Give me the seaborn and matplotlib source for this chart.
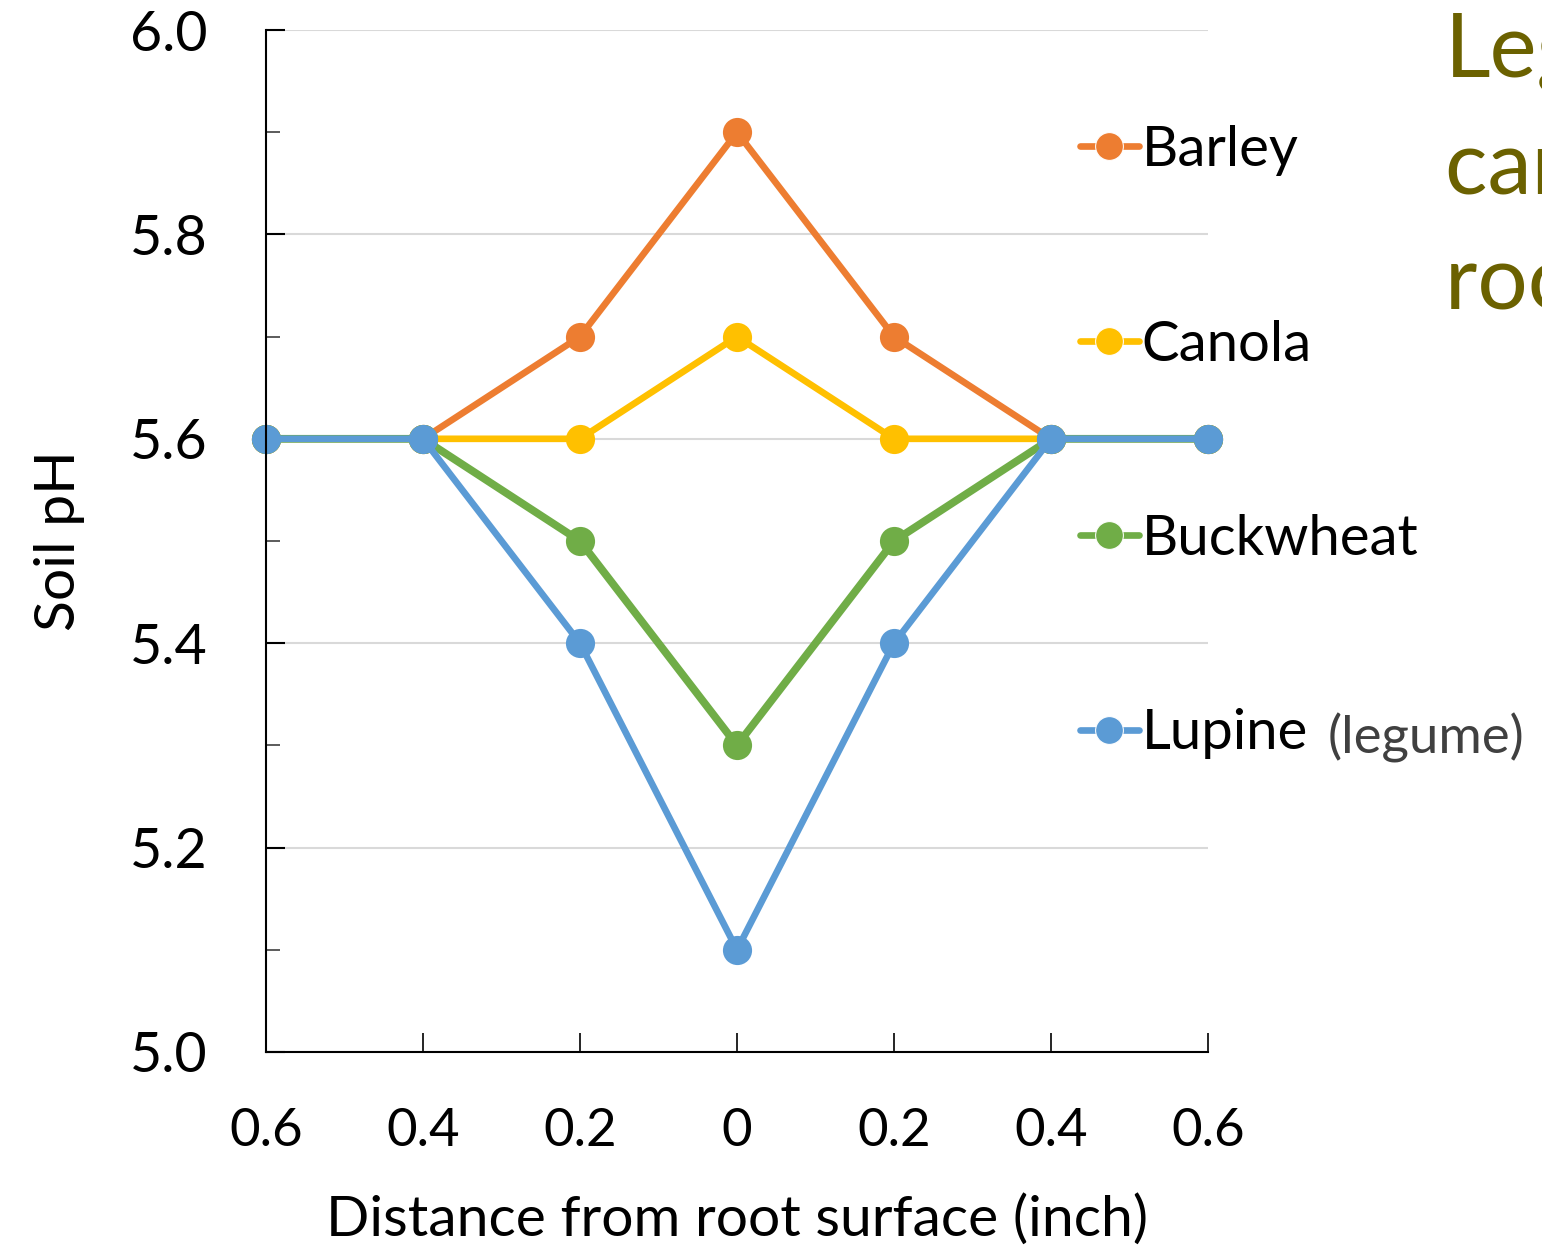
import numpy as np
import pandas as pd
import seaborn as sns
import matplotlib.pyplot as plt
from matplotlib.ticker import MultipleLocator, FixedLocator

# Data
distance = [-0.6, -0.4, -0.2, 0.0, 0.2, 0.4, 0.6]
tick_labels = ['0.6', '0.4', '0.2', '0', '0.2', '0.4', '0.6']
barley = [5.60, 5.60, 5.70, 5.90, 5.70, 5.60, 5.60]
canola = [5.60, 5.60, 5.60, 5.70, 5.60, 5.60, 5.60]
buckwheat = [5.60, 5.60, 5.50, 5.30, 5.50, 5.60, 5.60]
lupine = [5.60, 5.60, 5.40, 5.10, 5.40, 5.60, 5.60]
crops = ['Barley', 'Canola', 'Buckwheat', 'Lupine']
colors = ['#ED7D31', '#FFC000', '#70AD47', '#5B9BD5']
widths = [4.8, 4.8, 5.6, 4.8]

df = pd.DataFrame({'distance': distance * 4,
                   'ph': barley + canola + buckwheat + lupine,
                   'crop': np.repeat(crops, len(distance))})

sns.set_style('white')
plt.rcParams['font.family'] = ['Lato', 'DejaVu Sans']
plt.rcParams['text.color'] = 'black'
plt.rcParams['axes.labelcolor'] = 'black'

fig = plt.figure(figsize=(15.42, 12.46), dpi=100)
ax = fig.add_axes([0.1725, 0.1557, 0.6109, 0.8202])

sns.lineplot(data=df, x='distance', y='ph', hue='crop', hue_order=crops,
             palette=colors, marker='o', ax=ax, legend=True)

# make lines / markers as heavy as in the original
for line, lw in zip(ax.lines, widths):
    line.set_linewidth(lw)
    line.set_markersize(21)
    line.set_markeredgewidth(0)
    line.set_clip_on(False)

ax.set_xlim(-0.6, 0.6)
ax.set_ylim(5.0, 6.0)
ax.xaxis.set_major_locator(FixedLocator(distance))
ax.set_xticklabels(tick_labels)
ax.yaxis.set_major_locator(MultipleLocator(0.2))
ax.yaxis.set_minor_locator(MultipleLocator(0.1))
ax.yaxis.set_major_formatter(plt.FuncFormatter(lambda v, p: f'{v:.1f}'))

ax.grid(axis='y', color='#d9d9d9', linewidth=1.5)
ax.set_axisbelow(True)
for s in ['top', 'right']:
    ax.spines[s].set_visible(False)
for s in ['left', 'bottom']:
    ax.spines[s].set_color('black')
    ax.spines[s].set_linewidth(1.5)
    ax.spines[s].set_clip_on(False)

ax.tick_params(axis='y', which='major', direction='in', length=14, width=1.5,
               labelsize=40, pad=42, left=True, colors='black')
ax.tick_params(axis='y', which='minor', direction='in', length=10, width=1.2,
               left=True, color='#404040')
ax.tick_params(axis='x', direction='in', length=14, width=1.2,
               labelsize=38, pad=40, bottom=True, colors='black')

ax.set_xlabel('Distance from root surface (inch)', fontsize=41, labelpad=28)
ax.set_ylabel('Soil pH', fontsize=41, labelpad=32)

leg = ax.legend(loc='upper left', bbox_to_anchor=(0.84, 0.929), frameon=False,
                fontsize=40.5, handlelength=1.05, handletextpad=0.05,
                labelspacing=2.55, borderaxespad=0)
for line in leg.get_lines():
    line.set_linewidth(4.8)
    line.set_markersize(20)

fig.text(0.861, 0.408, '(legume)', fontsize=38, color='#404040', va='center')

fig.text(0.937, 0.99, 'Legumes\ncan acidify\nroot zone', fontsize=64,
         color='#6B6100', va='top', ha='left', linespacing=1.5)

fig.savefig('out.png', dpi=100)
